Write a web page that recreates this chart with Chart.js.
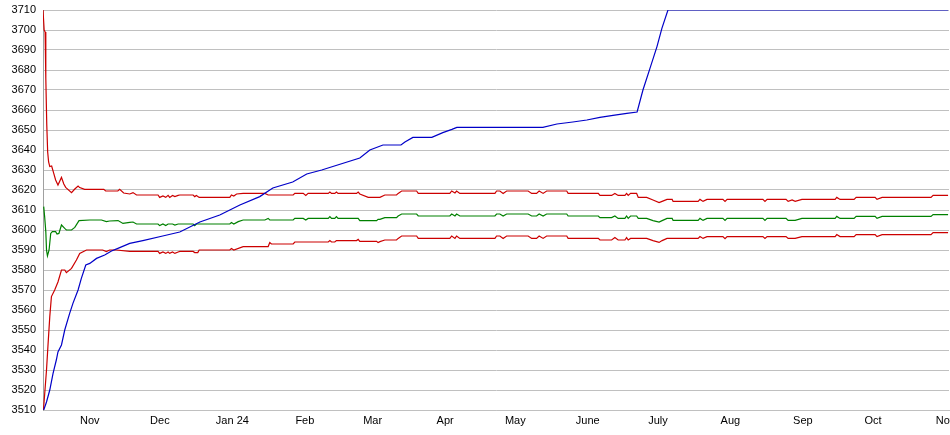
<!DOCTYPE html>
<html>
<head>
<meta charset="utf-8">
<script src="https://cdn.jsdelivr.net/npm/chart.js@4.4.1/dist/chart.umd.min.js"></script>
<style>
  body { margin: 0; background: #fff; }
  canvas { display: block; }
</style>
</head>
<body>
<canvas id="grafico" width="950" height="435"></canvas>
<script>
// x = days since 12 Oct 2023, y = value
const monthDays = [20, 50, 81, 112, 141, 172, 202, 233, 263, 294, 325, 355, 386];
const monthLabels = ['Nov', 'Dec', 'Jan 24', 'Feb', 'Mar', 'Apr', 'May', 'June', 'July', 'Aug', 'Sep', 'Oct', 'Nov'];
const yTicks = { min: 3510, max: 3710, step: 10 };

const blue = [
  [0.3, 3510], [1.5, 3514], [2.9, 3520], [4.3, 3528.3], [5.7, 3535], [6.4, 3539], [7.9, 3542.5],
  [9.3, 3550], [11.4, 3558.3], [12.8, 3563.3], [15.0, 3570], [16.4, 3575.8], [18.3, 3582.5],
  [20.0, 3583.3], [22.9, 3585.8], [26.4, 3587.5], [29.3, 3589.5], [32.8, 3591.2], [37.1, 3593.3],
  [42.7, 3594.7], [51.2, 3597], [58.5, 3599], [67.1, 3604], [75.6, 3607.5], [84.2, 3612.5],
  [92.7, 3616.7], [98.3, 3621], [106.8, 3624], [112.8, 3628], [119.2, 3630], [135.5, 3636],
  [139.8, 3640], [145.4, 3642.5], [153.1, 3642.5], [154.8, 3644], [158.2, 3646.3], [166.3, 3646.3],
  [171.0, 3648.7], [174.9, 3650.3], [177.0, 3651.3], [213.8, 3651.3], [219.8, 3653], [226.6, 3654],
  [232.6, 3655], [238.2, 3656.3], [243.8, 3657.3], [249.7, 3658.3], [254.1, 3659], [256.6, 3670],
  [259.6, 3680.8], [262.6, 3691.7], [264.7, 3700.8], [267.3, 3710], [387.1, 3710]
];

const redUpper = [
  [0, 3710], [0.5, 3700], [0.9, 3699], [1.2, 3676], [1.6, 3653], [2.0, 3639], [2.4, 3634],
  [2.9, 3631.7], [3.7, 3632], [4.6, 3628.3], [5.4, 3625], [6.4, 3622.5], [7.9, 3626.3], [8.9, 3623],
  [9.7, 3621.3], [12.2, 3618.7], [13.6, 3620.5], [15.0, 3622], [15.7, 3621.2], [17.8, 3620.3],
  [26.0, 3620.3], [26.8, 3619.5], [32.0, 3619.5], [32.8, 3620.3], [34.5, 3618.5], [37.1, 3618],
  [38.5, 3618.7], [40.0, 3617.5], [49.2, 3617.5], [49.9, 3616.3], [51.3, 3617], [52.5, 3616.3],
  [53.5, 3617.3], [54.2, 3616.3], [55.4, 3617.3], [56.4, 3616.7], [57.8, 3617.3], [58.5, 3617.5],
  [64.2, 3617.5], [64.9, 3616.7], [65.6, 3617.3], [66.8, 3616.3], [79.9, 3616.3], [80.6, 3617.5],
  [81.6, 3617], [82.8, 3618], [85.6, 3618.3], [94.9, 3618.3], [96.3, 3617.5], [107.0, 3617.5],
  [107.7, 3618.3], [111.3, 3618.3], [112.4, 3617.3], [113.4, 3618.3], [122.0, 3618.3], [122.7, 3619],
  [123.4, 3618.3], [124.8, 3618.3], [125.5, 3619], [126.2, 3618.3], [134.1, 3618.3], [134.8, 3619],
  [135.5, 3618], [139.1, 3616.3], [142.7, 3616.3], [144.1, 3616.3], [146.2, 3617.5], [151.2, 3617.5],
  [151.9, 3618.3], [153.4, 3619.5], [159.8, 3619.5], [160.5, 3618.3], [174.0, 3618.3], [174.8, 3619.5],
  [176.2, 3618.5], [176.9, 3619.5], [178.3, 3618.3], [193.3, 3618.3], [194.0, 3619.5], [195.4, 3619.5],
  [196.8, 3618.3], [198.3, 3619.5], [207.5, 3619.5], [209.0, 3618.3], [211.1, 3618.3], [212.2, 3619.5],
  [213.9, 3618.3], [215.4, 3619.5], [224.0, 3619.5], [224.6, 3618.3], [237.5, 3618.3], [238.2, 3617.3],
  [243.2, 3617.3], [244.6, 3618.3], [246.0, 3617.3], [248.9, 3617.3], [249.6, 3618.3], [250.3, 3617.3],
  [251.3, 3618.3], [253.9, 3618.3], [254.6, 3616.3], [258.2, 3616.3], [260.9, 3615], [263.5, 3613.7],
  [264.8, 3614.3], [266.9, 3615.3], [269.1, 3615.3], [269.5, 3614.3], [280.2, 3614.3], [281.0, 3615.3],
  [282.3, 3614.3], [284.0, 3615.3], [290.8, 3615.3], [291.7, 3614.3], [292.6, 3615.3], [307.9, 3615.3],
  [308.8, 3614.3], [309.7, 3615.3], [317.8, 3615.3], [318.7, 3614.3], [320.4, 3615], [321.7, 3614.3],
  [324.6, 3615.3], [338.8, 3615.3], [339.5, 3616.3], [340.9, 3615.3], [346.9, 3615.3], [347.8, 3616.3],
  [355.9, 3616.3], [356.7, 3615.3], [358.9, 3616.3], [379.8, 3616.3], [380.7, 3617.3], [387.1, 3617.3]
];

const green = [
  [0.3, 3611.7], [0.7, 3606.7], [1.2, 3599.2], [1.5, 3590], [1.9, 3587], [2.6, 3590], [3.3, 3598.3],
  [4.0, 3599.2], [5.4, 3599.2], [6.0, 3598], [6.8, 3598.3], [7.9, 3602.5], [9.3, 3600.8], [10.0, 3600],
  [12.2, 3600], [13.6, 3601.3], [15.4, 3604.7], [20.0, 3605], [25.0, 3605], [27.1, 3604.2],
  [28.5, 3604.5], [32.1, 3604.7], [34.2, 3603.3], [37.1, 3603.8], [38.5, 3604], [40.0, 3603],
  [49.2, 3603], [49.9, 3602.2], [51.3, 3603], [52.5, 3602.2], [53.5, 3603], [55.4, 3603],
  [56.4, 3602.5], [57.8, 3603], [64.2, 3603], [64.9, 3602.2], [65.6, 3603], [79.9, 3603],
  [80.6, 3603.7], [81.6, 3603], [83.5, 3604.2], [85.6, 3605], [94.9, 3605], [96.3, 3605.8],
  [97.0, 3605], [107.0, 3605], [107.7, 3605.8], [111.3, 3605.8], [112.4, 3605], [113.4, 3605.8],
  [122.0, 3605.8], [122.7, 3606.7], [123.4, 3605.8], [124.8, 3605.8], [125.5, 3606.7], [126.2, 3605.8],
  [134.8, 3605.8], [135.5, 3604.7], [142.7, 3604.7], [143.3, 3605.3], [144.1, 3605.3], [146.2, 3606.2],
  [151.2, 3606.2], [151.9, 3607], [153.4, 3608], [159.8, 3608], [160.5, 3607], [174.0, 3607],
  [174.8, 3608], [176.2, 3607], [176.9, 3608], [178.3, 3607], [193.3, 3607], [194.0, 3608],
  [195.4, 3608], [196.8, 3607], [198.3, 3608], [207.5, 3608], [209.0, 3607], [211.1, 3607],
  [212.2, 3608], [213.9, 3607], [215.4, 3608], [224.0, 3608], [224.6, 3607], [237.5, 3607],
  [238.2, 3606.2], [243.2, 3606.2], [244.6, 3607], [246.0, 3605.8], [248.9, 3605.8], [249.6, 3607],
  [250.3, 3605.8], [251.3, 3607], [253.9, 3607], [254.6, 3605.8], [258.2, 3605.8], [260.9, 3604.7],
  [263.5, 3604], [264.8, 3604.7], [266.9, 3605.8], [269.1, 3605.8], [269.5, 3604.8], [280.2, 3604.8],
  [281.0, 3605.8], [282.3, 3604.8], [284.0, 3605.8], [290.8, 3605.8], [291.7, 3604.8], [292.6, 3605.8],
  [307.9, 3605.8], [308.8, 3604.8], [309.7, 3605.8], [317.8, 3605.8], [318.7, 3604.8], [321.7, 3604.8],
  [324.6, 3605.8], [338.8, 3605.8], [339.5, 3606.8], [340.9, 3605.8], [346.9, 3605.8], [347.8, 3606.8],
  [355.9, 3606.8], [356.7, 3605.8], [358.9, 3606.8], [379.8, 3606.8], [380.7, 3607.7], [387.1, 3607.7]
];

const redLower = [
  [0.2, 3510], [1.5, 3530], [2.1, 3541.7], [2.9, 3556.7], [3.6, 3566.7], [5.0, 3570], [6.4, 3574],
  [7.9, 3580], [9.3, 3580], [10.0, 3578.7], [12.2, 3580.8], [14.3, 3585], [15.7, 3588.3], [18.6, 3590],
  [25.5, 3590], [27.1, 3589.2], [28.5, 3590], [31.4, 3590], [37.1, 3589.3], [49.2, 3589.3],
  [49.9, 3588.3], [51.3, 3589], [52.5, 3588.3], [53.5, 3589], [54.2, 3588.3], [55.4, 3589],
  [56.4, 3588.3], [57.8, 3589], [58.5, 3589.3], [64.2, 3589.3], [64.9, 3588.7], [66.2, 3588.7],
  [66.8, 3590], [79.9, 3590], [80.6, 3590.7], [81.6, 3590], [85.6, 3591.7], [96.3, 3591.7],
  [97.0, 3593.7], [97.7, 3593], [107.0, 3593], [107.7, 3594], [122.0, 3594], [122.7, 3594.7],
  [123.4, 3594], [124.8, 3594], [125.5, 3594.7], [134.1, 3594.7], [134.8, 3595.3], [135.5, 3594.3],
  [142.7, 3594.3], [143.3, 3593.7], [144.1, 3594.2], [146.2, 3595], [151.2, 3595], [151.9, 3595.8],
  [153.4, 3597], [159.8, 3597], [160.5, 3595.8], [174.0, 3595.8], [174.8, 3597], [176.2, 3595.8],
  [176.9, 3597], [178.3, 3595.8], [193.3, 3595.8], [194.0, 3597], [195.4, 3597], [196.8, 3595.8],
  [198.3, 3597], [207.5, 3597], [209.0, 3595.8], [211.1, 3595.8], [212.2, 3597], [213.9, 3595.8],
  [215.4, 3597], [224.0, 3597], [224.6, 3595.8], [237.5, 3595.8], [238.2, 3595], [243.2, 3595],
  [244.6, 3596.2], [246.0, 3595], [248.9, 3595], [249.6, 3596.2], [250.3, 3595], [251.3, 3595.8],
  [258.2, 3595.8], [260.9, 3594.7], [263.5, 3593.8], [264.8, 3594.7], [266.9, 3595.8], [280.2, 3595.8],
  [281.0, 3596.7], [282.3, 3595.8], [284.0, 3596.7], [290.8, 3596.7], [291.7, 3595.7], [292.6, 3596.7],
  [307.9, 3596.7], [308.8, 3595.8], [309.7, 3596.7], [317.8, 3596.7], [318.7, 3595.8], [321.7, 3595.8],
  [324.6, 3596.7], [338.8, 3596.7], [339.5, 3597.7], [340.9, 3596.7], [346.9, 3596.7], [347.8, 3597.7],
  [355.9, 3597.7], [356.7, 3596.7], [358.9, 3597.7], [379.8, 3597.7], [380.7, 3598.7], [387.1, 3598.7]
];

function serie(pontos, cor) {
  return {
    data: pontos.map(p => ({ x: p[0], y: p[1] })),
    borderColor: cor,
    borderWidth: 1.2,
    pointRadius: 0,
    tension: 0,
    fill: false
  };
}

new Chart(document.getElementById('grafico'), {
  type: 'line',
  data: {
    datasets: [
      serie(blue, '#0000c8'),
      serie(redUpper, '#cc0000'),
      serie(green, '#008000'),
      serie(redLower, '#cc0000')
    ]
  },
  options: {
    responsive: false,
    animation: false,
    devicePixelRatio: 1,
    layout: { padding: { top: 10, right: 1, left: 0, bottom: 0 } },
    plugins: {
      legend: { display: false },
      tooltip: { enabled: false }
    },
    scales: {
      x: {
        type: 'linear',
        min: 0,
        max: 387.5,
        grid: { display: false, drawTicks: false },
        border: { color: '#c0c0c0' },
        afterBuildTicks: scale => {
          scale.ticks = monthDays.map(v => ({ value: v }));
        },
        afterFit: scale => {
          scale.height = 25;
          scale.paddingLeft = 0;
          scale.paddingRight = 0;
        },
        ticks: {
          autoSkip: false,
          maxRotation: 0,
          padding: 4,
          color: '#000',
          font: { family: "'Liberation Sans Narrow', 'Arial Narrow', 'Liberation Sans', Arial", size: 11 },
          callback: (v, i) => monthLabels[i]
        }
      },
      y: {
        min: yTicks.min,
        max: yTicks.max,
        grid: { color: '#c0c0c0', drawTicks: false },
        border: { color: '#a0a0a0' },
        afterFit: scale => {
          scale.width = 43;
          scale.paddingTop = 0;
          scale.paddingBottom = 0;
        },
        ticks: {
          stepSize: yTicks.step,
          padding: 7,
          color: '#000',
          font: { family: "'Liberation Sans', Arial", size: 11 },
          callback: v => String(v)
        }
      }
    }
  }
});
</script>
</body>
</html>
